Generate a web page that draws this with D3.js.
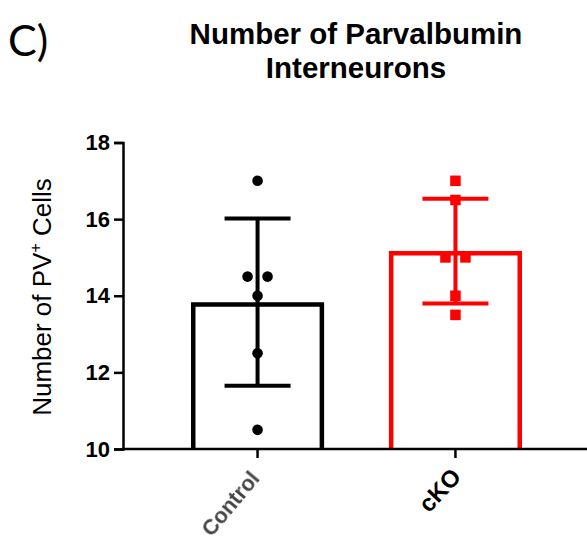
<!DOCTYPE html>
<html>
<head>
<meta charset="utf-8">
<script src="https://cdn.jsdelivr.net/npm/d3@7"></script>
<style>
  html, body { margin: 0; padding: 0; background: #fff; }
  svg { display: block; }
</style>
</head>
<body>
<svg id="chart" width="587" height="540"></svg>
<script>
// Group names, colours and the individual cell counts per animal
const groups = ["Control", "cKO"];
const groupColors = ["#000000", "#ff0000"];
const controlCounts = [17, 14.5, 14.5, 14, 12.5, 10.5];
const ckoCounts = [17, 16.5, 15, 15, 14, 13.5];
const yTicks = [10, 12, 14, 16, 18];
const yDomain = [10, 18];

const countsByGroup = [controlCounts, ckoCounts];

const svg = d3.select("#chart");
const W = 587, H = 540;
const plot = { left: 123, top: 142.5, bottom: 449, right: 590 };

const y = d3.scaleLinear().domain(yDomain).range([plot.bottom, plot.top]);
const x = d3.scaleBand().domain(groups).range([plot.left, plot.right])
  .paddingInner(0.35).paddingOuter(0.355);

const defs = svg.append("defs");
defs.append("filter").attr("id", "soft")
  .append("feGaussianBlur").attr("stdDeviation", 0.6);

// Panel letter
svg.append("text")
  .attr("x", 8).attr("y", 56)
  .attr("font-family", "Lato, 'Open Sans', sans-serif")
  .attr("font-size", 43)
  .attr("fill", "#000")
  .text("C)");

// Title
const title = svg.append("text")
  .attr("text-anchor", "middle")
  .attr("font-family", "'Liberation Sans', Arial, sans-serif")
  .attr("font-weight", "bold")
  .attr("font-size", 29.5)
  .attr("fill", "#000");
title.append("tspan").attr("x", 356).attr("y", 44).text("Number of Parvalbumin");
title.append("tspan").attr("x", 356).attr("y", 78).text("Interneurons");

// Summary statistics per group (mean and sample SD)
const stats = countsByGroup.map((vals, i) => ({
  group: groups[i],
  color: groupColors[i],
  mean: d3.mean(vals),
  sd: d3.deviation(vals),
  vals
}));

// Bars: open outlines standing on the x axis, top border drawn inside the bar
const barStroke = 4.5;
svg.append("g").selectAll("path")
  .data(stats)
  .join("path")
  .attr("d", d => {
    const x0 = x(d.group), x1 = x0 + x.bandwidth();
    const top = y(d.mean) + barStroke / 2;
    return `M${x0},${y(yDomain[0])}V${top}H${x1}V${y(yDomain[0])}`;
  })
  .attr("fill", "#fff")
  .attr("stroke", d => d.color)
  .attr("stroke-width", barStroke)
  .attr("stroke-linejoin", "miter");

// Error bars (mean ± SD)
const capHalf = 33;
const eb = svg.append("g").selectAll("g")
  .data(stats)
  .join("g")
  .attr("stroke", d => d.color)
  .attr("stroke-width", 4);
eb.append("line")
  .attr("x1", d => x(d.group) + x.bandwidth() / 2)
  .attr("x2", d => x(d.group) + x.bandwidth() / 2)
  .attr("y1", d => y(d.mean + d.sd))
  .attr("y2", d => y(d.mean - d.sd));
eb.append("line")
  .attr("x1", d => x(d.group) + x.bandwidth() / 2 - capHalf)
  .attr("x2", d => x(d.group) + x.bandwidth() / 2 + capHalf)
  .attr("y1", d => y(d.mean + d.sd))
  .attr("y2", d => y(d.mean + d.sd));
eb.append("line")
  .attr("x1", d => x(d.group) + x.bandwidth() / 2 - capHalf)
  .attr("x2", d => x(d.group) + x.bandwidth() / 2 + capHalf)
  .attr("y1", d => y(d.mean - d.sd))
  .attr("y2", d => y(d.mean - d.sd));

// Individual points: equal values are spread side by side
const spread = 10;
function placePoints(s) {
  const counts = d3.rollup(s.vals, v => v.length, v => v);
  const seen = new Map();
  return s.vals.map(v => {
    const n = counts.get(v);
    const k = seen.get(v) || 0;
    seen.set(v, k + 1);
    const off = (k - (n - 1) / 2) * 2 * spread;
    return { cx: x(s.group) + x.bandwidth() / 2 + off, cy: y(v), color: s.color };
  });
}
// Control: circles
svg.append("g").selectAll("circle")
  .data(placePoints(stats[0]))
  .join("circle")
  .attr("cx", d => d.cx).attr("cy", d => d.cy)
  .attr("r", 5.3).attr("fill", d => d.color);
// cKO: squares
const sq = 10.5;
svg.append("g").selectAll("rect")
  .data(placePoints(stats[1]))
  .join("rect")
  .attr("x", d => d.cx - sq / 2).attr("y", d => d.cy - sq / 2)
  .attr("width", sq).attr("height", sq)
  .attr("fill", d => d.color);

// Y axis
const yAxis = svg.append("g")
  .attr("transform", `translate(${plot.left},0)`)
  .call(d3.axisLeft(y).tickValues(yTicks).tickSize(9).tickPadding(4).tickFormat(d3.format("d")));
yAxis.select(".domain").attr("stroke", "#000").attr("stroke-width", 2.5);
yAxis.selectAll(".tick line").attr("stroke", "#000").attr("stroke-width", 2.5);
yAxis.selectAll(".tick text")
  .attr("font-family", "'Liberation Sans', Arial, sans-serif")
  .attr("font-weight", "bold")
  .attr("font-size", 22)
  .attr("fill", "#000");

// X axis
const xAxis = svg.append("g")
  .attr("transform", `translate(0,${plot.bottom})`)
  .call(d3.axisBottom(x).tickSize(9).tickSizeOuter(0));
xAxis.select(".domain").attr("stroke", "#000").attr("stroke-width", 2.5)
  .attr("d", `M${plot.left - 1},0H${W}`);
xAxis.selectAll(".tick line").attr("stroke", "#000").attr("stroke-width", 2.5);
xAxis.selectAll(".tick text")
  .attr("font-family", "'Liberation Sans', Arial, sans-serif")
  .attr("font-weight", "bold")
  .attr("text-anchor", "end")
  .attr("y", 0).attr("dy", "0.35em")
  .attr("transform", (d, i) => i === 0 ? "translate(-3,25) rotate(-50)" : "translate(1,23) rotate(-47)")
  .attr("font-size", (d, i) => i === 0 ? 21.5 : 24)
  .attr("fill", (d, i) => i === 0 ? "#444" : "#000")
  .attr("filter", (d, i) => i === 0 ? "url(#soft)" : null);

// Y axis title with superscript
const yl = svg.append("text")
  .attr("transform", `translate(51,297) rotate(-90)`)
  .attr("text-anchor", "middle")
  .attr("font-family", "'Liberation Sans', Arial, sans-serif")
  .attr("font-size", 26)
  .attr("fill", "#000");
yl.append("tspan").text("Number of PV");
yl.append("tspan").attr("font-size", 16).attr("dy", -10).text("+");
yl.append("tspan").attr("dy", 10).text("  Cells");
</script>
</body>
</html>
